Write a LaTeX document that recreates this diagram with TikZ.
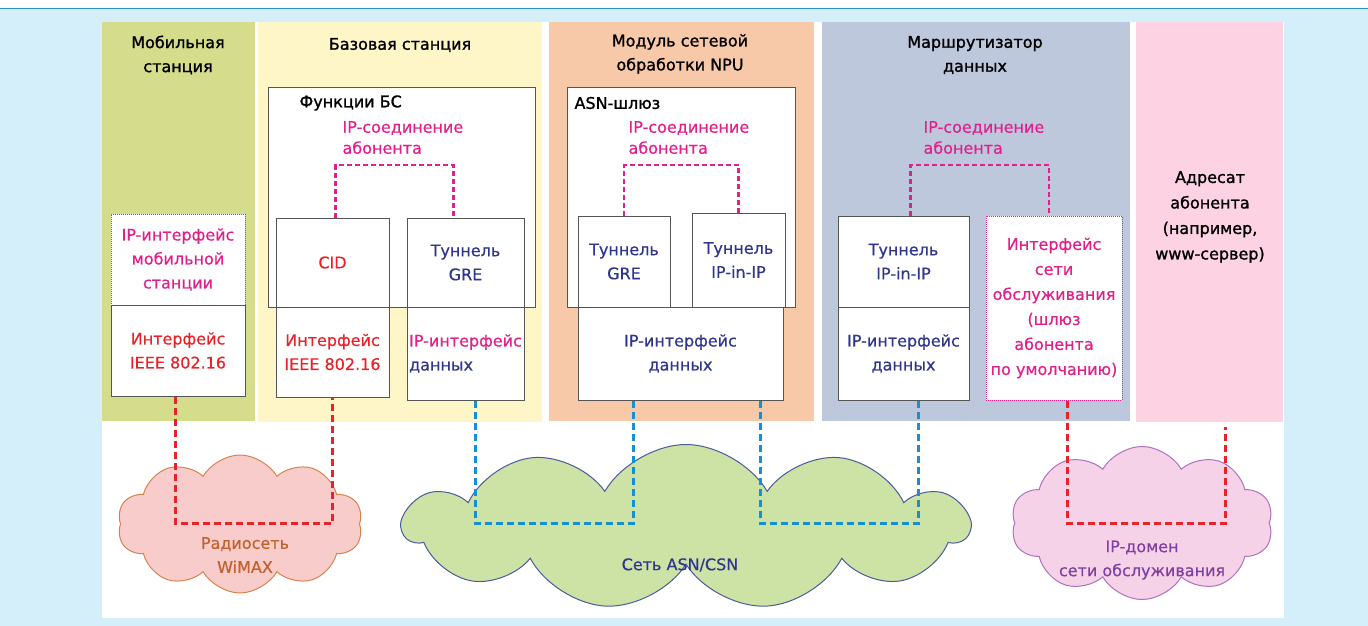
\documentclass[tikz,border=0pt]{standalone}
\usepackage{fontspec}
\setmainfont{DejaVu Sans}[FakeBold=0.5]
\newfontfamily\headfont{DejaVu Sans}[FakeBold=1.3]
\usepackage{tikz}
\usetikzlibrary{shapes.symbols,calc}

\definecolor{bgblue}{HTML}{D4EEFA}
\definecolor{topline}{HTML}{2B8FD8}
\definecolor{msband}{HTML}{D5DD8C}
\definecolor{bsband}{HTML}{FFF6C8}
\definecolor{npuband}{HTML}{F8C9A9}
\definecolor{rtband}{HTML}{BDC8DD}
\definecolor{dstband}{HTML}{FDD3E3}
\definecolor{pinktxt}{HTML}{E2208C}
\definecolor{redtxt}{HTML}{E8242A}
\definecolor{navytxt}{HTML}{30358E}
\definecolor{bluedsh}{HTML}{1590D5}
\definecolor{boxline}{HTML}{555555}
\definecolor{wmxfill}{HTML}{F9CCCC}
\definecolor{wmxline}{HTML}{D8834F}
\definecolor{wmxtxt}{HTML}{C0612E}
\definecolor{asnfill}{HTML}{CDE3A5}
\definecolor{asnline}{HTML}{4C5A9E}
\definecolor{domfill}{HTML}{F6D2E8}
\definecolor{domline}{HTML}{B070C0}
\definecolor{domtxt}{HTML}{8040A0}

\begin{document}
\begin{tikzpicture}[x=1pt,y=-1pt,
  font=\fontsize{16}{24}\selectfont,
  box/.style={draw=boxline,line width=1pt,fill=white,inner sep=0pt,align=center},
  pinkbox/.style={box,draw=pinktxt,densely dotted},
  title/.style={align=center,text=black,font=\fontsize{16}{24}\headfont},
  reddash/.style={draw=redtxt,line width=3pt,dash pattern=on 7pt off 4pt},
  bluedash/.style={draw=bluedsh,line width=3pt,dash pattern=on 7pt off 4pt},
  pinkdash/.style={draw=pinktxt,line width=2.5pt,dash pattern=on 5pt off 3pt},
  puff/.style={cloud,cloud puffs=10,cloud puff arc=120,draw,line width=1pt}]
\useasboundingbox (0,0) rectangle (1368,626);
\fill[bgblue] (0,9) rectangle (1368,626);
\draw[topline,line width=1.5pt] (0,8.5) -- (1368,8.5);
\fill[white] (102,22) rectangle (1284,618);
\fill[msband] (102,22) rectangle (255,421);
\fill[bsband] (258,22) rectangle (542,422);
\fill[npuband] (549,22) rectangle (814,421);
\fill[rtband] (822,22) rectangle (1130,421);
\fill[dstband] (1136,22) rectangle (1283,422);

\node[title] (mst) at (178,55) {Мобильная\\станция};
\node[title] (bst) at (400,45) {Базовая станция};
\node[title] (npt) at (680,54) {Модуль сетевой\\обработки NPU};
\node[title] (rtt) at (975,55) {Маршрутизатор\\данных};
\node[title,font=\fontsize{16}{25.5}\headfont] (dst) at (1210,217) {Адресат\\абонента\\(например,\\www-сервер)};

\node[pinkbox,minimum width=134,minimum height=91,text=pinktxt] (msip) at (178,259.5) {IP-интерфейс\\мобильной\\станции};
\node[box,minimum width=134,minimum height=91,text=redtxt] (msieee) at (178,350.5) {Интерфейс\\IEEE 802.16};

\node[box,minimum width=267,minimum height=220] (bsfn) at (401.5,197) {};
\node[anchor=west,font=\fontsize{16}{24}\headfont] (bsfnl) at (296,103) {Функции БС};
\node[anchor=west,align=left,text=pinktxt,font=\fontsize{16}{21}\selectfont] (bsipc) at (339,137.5) {IP-соединение\\абонента};
\node[box,minimum width=113,minimum height=89,text=redtxt] (cid) at (332.5,262.5) {CID};
\node[box,minimum width=117,minimum height=89,text=navytxt] (bsgre) at (465.5,262.5) {Туннель\\GRE};
\node[box,minimum width=113,minimum height=90,text=redtxt] (bsieee) at (332.5,352) {Интерфейс\\IEEE 802.16};
\node[box,minimum width=117,minimum height=93,align=left] (bsip) at (465.5,353.5) {\textcolor{pinktxt}{IP-интерфейс}\\\textcolor{navytxt}{данных}};

\node[box,minimum width=228,minimum height=220] (asn) at (681,197) {};
\node[anchor=west,font=\fontsize{16}{24}\headfont] (asnl) at (571,103) {ASN-шлюз};
\node[anchor=west,align=left,text=pinktxt,font=\fontsize{16}{21}\selectfont] (npuipc) at (625,137.5) {IP-соединение\\абонента};
\node[box,minimum width=92,minimum height=91,text=navytxt] (npugre) at (624,261.5) {Туннель\\GRE};
\node[box,minimum width=93,minimum height=94,text=navytxt] (npuipip) at (738.5,260) {Туннель\\IP-in-IP};
\node[box,minimum width=205,minimum height=93,text=navytxt] (npuip) at (680.5,353.5) {IP-интерфейс\\данных};

\node[anchor=west,align=left,text=pinktxt,font=\fontsize{16}{21}\selectfont] (rtipc) at (920,137.5) {IP-соединение\\абонента};
\node[box,minimum width=131,minimum height=91,text=navytxt] (rtipip) at (903.5,261.5) {Туннель\\IP-in-IP};
\node[box,minimum width=131,minimum height=93,text=navytxt] (rtip) at (903.5,353.5) {IP-интерфейс\\данных};
\node[pinkbox,minimum width=136,minimum height=184,text=pinktxt,font=\fontsize{16}{25}\selectfont] (rtsvc) at (1054,308) {Интерфейс\\сети\\обслуживания\\(шлюз\\абонента\\по умолчанию)};

\coordinate (bsj) at (395,165);
\coordinate (npuj) at (680,165);
\coordinate (rtj) at (980,165);
\draw[pinkdash] ([xshift=3]cid.north) |- (bsj) -| ([xshift=-12]bsgre.north);
\draw[pinkdash] (npugre.north) |- (npuj) -| (npuipip.north);
\draw[pinkdash] ([xshift=7]rtipip.north) |- (rtj) -| ([xshift=-5]rtsvc.north);

\node[puff,fill=wmxfill,draw=wmxline,minimum width=245,minimum height=138] (wmx) at (240,524) {};
\node[puff,cloud puffs=11,fill=asnfill,draw=asnline,minimum width=565,minimum height=165] (asnet) at (686,527) {};
\node[puff,fill=domfill,draw=domline,minimum width=262,minimum height=153] (dom) at (1142,523) {};
\node[text=wmxtxt,align=center] (wmxl) at (245,555) {Радиосеть\\WiMAX};
\node[text=navytxt] (asnetl) at (680,565) {Сеть ASN/CSN};
\node[text=domtxt,align=center] (doml) at (1142,560) {IP-домен\\сети обслуживания};

\coordinate (wmxj) at (250,523);
\coordinate (asnj1) at (550,523);
\coordinate (asnj2) at (840,523);
\coordinate (domj) at (1140,523);
\coordinate (dste) at (1225,427);
\draw[reddash] ([xshift=-3]msieee.south) |- (wmxj) -| (bsieee.south);
\draw[bluedash] ([xshift=10]bsip.south) |- (asnj1) -| ([xshift=-47]npuip.south);
\draw[bluedash] ([xshift=80]npuip.south) |- (asnj2) -| ([xshift=15]rtip.south);
\draw[reddash] ([xshift=13]rtsvc.south) |- (domj) -| (dste);
\end{tikzpicture}
\end{document}
